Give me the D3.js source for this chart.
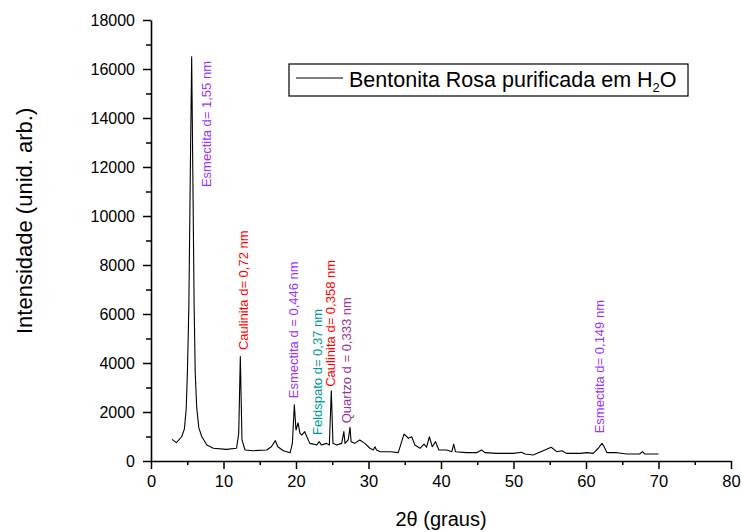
<!DOCTYPE html>
<html>
<head>
<meta charset="utf-8">
<script src="https://cdn.jsdelivr.net/npm/d3@7"></script>
<style>
  body { margin: 0; background: #fff; }
  svg { font-family: "Liberation Sans", Arial, sans-serif; }
</style>
</head>
<body>
<svg id="chart"></svg>
<script>
// diffractogram (2θ in degrees, intensity)
const twoTheta = [2.9, 3.5, 4.23, 4.6, 4.85, 5.02, 5.22, 5.42, 5.61, 5.77, 5.95, 6.1, 6.3, 6.6, 7.0, 7.7, 8.6, 10.4, 11.8, 12.1, 12.32, 12.55, 12.97,
  14.1, 15.96, 16.6, 17.15, 17.5, 18.25, 19.2, 19.5, 19.77, 20.0, 20.28, 20.55, 20.8, 21.2, 21.5, 21.9, 22.4, 22.85, 23.2, 23.5,
  24.2, 24.6, 24.87, 25.1, 25.6, 26.3, 26.6, 26.76, 27.2, 27.45, 27.6, 28.1, 28.8, 29.5, 30.2, 30.66, 30.9, 31.1, 31.6, 33.0,
  34.1, 34.9, 35.3, 35.5, 35.96, 36.4, 37.1, 37.66, 38.0, 38.4, 38.8, 39.25, 39.7, 40.8, 41.5, 41.75, 42.0, 43.5, 44.9, 45.6,
  46.07, 47.7, 50.0, 51.1, 51.6, 52.7, 54.1, 55.2, 55.96, 56.7, 57.3, 59.2, 60.1, 61.0, 61.7, 62.2, 62.5, 62.9, 64.3, 65.6,
  67.4, 67.8, 68.1, 70.0];
const intensity = [885, 750, 990, 1300, 2100, 3600, 6300, 11700, 16500, 11700, 6300, 3600, 2200, 1350, 1000, 650, 520, 475, 520, 1130, 4260, 860, 450,
  420, 450, 580, 830, 580, 420, 340, 720, 2290, 1265, 1560, 1130, 1060, 1200, 990, 720, 690, 650, 790, 650,
  720, 650, 2870, 720, 650, 720, 1200, 720, 860, 1375, 790, 720, 860, 720, 520, 450, 580, 450, 380, 380,
  340, 1100, 990, 925, 990, 650, 520, 690, 560, 990, 580, 790, 450, 450, 380, 690, 380, 340, 340, 450,
  340, 310, 310, 355, 285, 245, 420, 560, 380, 420, 310, 310, 340, 310, 520, 720, 580, 340, 340, 285,
  285, 380, 285, 285];

// peak labels: text, 2θ of label, intensity where label starts, colour
const peakLabels = ["Esmectita d= 1,55 nm", "Caulinita d= 0,72 nm", "Esmectita d = 0,446 nm", "Feldspato d= 0,37 nm",
  "Caulinita d= 0,358 nm", "Quartzo d = 0,333 nm", "Esmectita d= 0,149 nm"];
const peakLabelX = [7.7, 12.7, 19.6, 23.0, 24.8, 27.0, 61.8];
const peakLabelY = [11180, 4530, 2560, 1060, 3030, 1540, 1130];
const peakLabelColor = ["#9933ff", "#ff0000", "#9933ff", "#009999", "#ff0000", "#993399", "#9933ff"];

const xTicks = [0, 10, 20, 30, 40, 50, 60, 70, 80];
const yTicks = [0, 2000, 4000, 6000, 8000, 10000, 12000, 14000, 16000, 18000];

const width = 742, height = 532;
const margin = { left: 151, right: 11, top: 20, bottom: 71 };

const svg = d3.select("#chart").attr("width", width).attr("height", height);

const x = d3.scaleLinear().domain([0, 80]).range([margin.left, width - margin.right]);
const y = d3.scaleLinear().domain([0, 18000]).range([height - margin.bottom, margin.top]);

// minor ticks first
svg.append("g")
  .attr("transform", "translate(0," + y(0) + ")")
  .call(d3.axisBottom(x).tickValues(d3.range(5, 80, 10)).tickSize(4).tickFormat(""))
  .call(g => g.select(".domain").remove())
  .selectAll("line").attr("stroke-width", 1.5);
svg.append("g")
  .attr("transform", "translate(" + x(0) + ",0)")
  .call(d3.axisLeft(y).tickValues(d3.range(1000, 18000, 2000)).tickSize(5).tickFormat(""))
  .call(g => g.select(".domain").remove())
  .selectAll("line").attr("stroke-width", 1.5);

const xAxis = svg.append("g")
  .attr("transform", "translate(0," + y(0) + ")")
  .call(d3.axisBottom(x).tickValues(xTicks).tickSize(8).tickSizeOuter(0).tickPadding(6));
xAxis.select(".domain").attr("stroke-width", 1.6);
xAxis.selectAll("line").attr("stroke-width", 1.5);
xAxis.selectAll("text").attr("font-size", 16.5).attr("font-family", "Liberation Sans, Arial, sans-serif");

const yAxis = svg.append("g")
  .attr("transform", "translate(" + x(0) + ",0)")
  .call(d3.axisLeft(y).tickValues(yTicks).tickFormat(d3.format("d")).tickSize(8).tickSizeOuter(0).tickPadding(8));
yAxis.select(".domain").attr("stroke-width", 1.6);
yAxis.selectAll("line").attr("stroke-width", 1.5);
yAxis.selectAll("text").attr("font-size", 16).attr("font-family", "Liberation Sans, Arial, sans-serif");

// diffractogram
const pts = twoTheta.map((t, i) => [t, intensity[i]]);
svg.append("path")
  .datum(pts)
  .attr("fill", "none")
  .attr("stroke", "#000")
  .attr("stroke-width", 1.1)
  .attr("stroke-linejoin", "round")
  .attr("d", d3.line().x(d => x(d[0])).y(d => y(d[1])));

// peak labels
svg.append("g").selectAll("text")
  .data(peakLabels)
  .enter().append("text")
  .attr("transform", (d, i) => "translate(" + x(peakLabelX[i]) + "," + y(peakLabelY[i]) + ") rotate(-90)")
  .attr("dy", "0.35em")
  .attr("font-size", 13)
  .attr("fill", (d, i) => peakLabelColor[i])
  .text(d => d);

// legend
const legend = svg.append("g");
legend.append("rect")
  .attr("x", 289).attr("y", 64).attr("width", 399).attr("height", 32)
  .attr("fill", "#fff").attr("stroke", "#000").attr("stroke-width", 1.2);
legend.append("line")
  .attr("x1", 296).attr("x2", 343).attr("y1", 78).attr("y2", 78)
  .attr("stroke", "#000").attr("stroke-width", 1.1);
const lt = legend.append("text").attr("x", 349).attr("y", 87).attr("font-size", 21.5);
lt.append("tspan").text("Bentonita Rosa purificada em H");
lt.append("tspan").attr("font-size", 13).attr("dy", 5).text("2");
lt.append("tspan").attr("dy", -5).text("O");

// axis titles
svg.append("text")
  .attr("x", x(40)).attr("y", 526)
  .attr("text-anchor", "middle").attr("font-size", 20)
  .text("2θ (graus)");
svg.append("text")
  .attr("transform", "translate(32," + y(9800) + ") rotate(-90)")
  .attr("text-anchor", "middle").attr("font-size", 22)
  .text("Intensidade (unid. arb.)");
</script>
</body>
</html>
